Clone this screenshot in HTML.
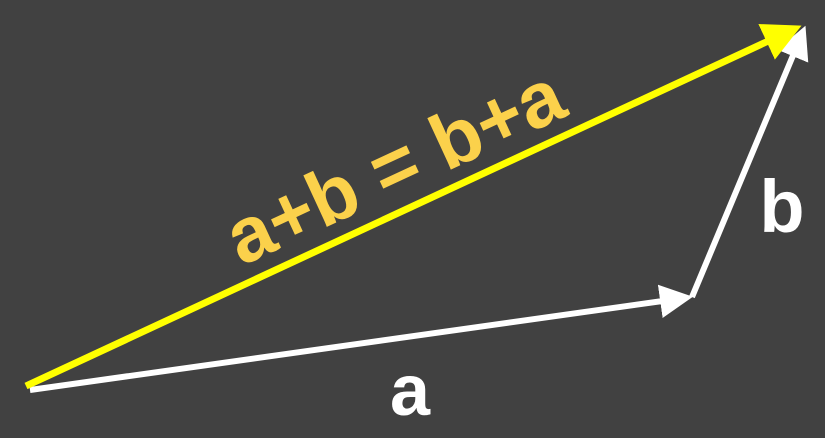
<!DOCTYPE html>
<html><head><meta charset="utf-8"><style>
html,body{margin:0;padding:0;background:#414141;width:825px;height:438px;overflow:hidden}
svg{display:block}
text{font-family:"Liberation Sans",Arial,sans-serif;font-weight:bold}
</style></head><body>
<svg width="825" height="438" viewBox="0 0 825 438">
<rect width="825" height="438" fill="#414141"/>
<defs>
<marker id="hy" markerWidth="6" markerHeight="6" refX="4" refY="3" orient="auto" markerUnits="strokeWidth"><path d="M0,0.2 L5.5,3 L0,5.8 Z" fill="#ffff00"/></marker>
<marker id="hw" markerWidth="6" markerHeight="6" refX="4" refY="3" orient="auto" markerUnits="strokeWidth"><path d="M0,0.2 L5.5,3 L0,5.8 Z" fill="#ffffff"/></marker>
</defs>
<line x1="30" y1="390" x2="684" y2="298" stroke="#ffffff" stroke-width="6" marker-end="url(#hw)"/>
<line x1="692" y1="297" x2="802" y2="34" stroke="#ffffff" stroke-width="6" marker-end="url(#hw)"/>
<line x1="26" y1="386" x2="792" y2="30" stroke="#ffff00" stroke-width="7" marker-end="url(#hy)"/>
<text x="394" y="193" font-size="78" fill="#fbd14b" text-anchor="middle" transform="rotate(-24.8 394 165)">a+b = b+a</text>
<text x="410" y="415" font-size="72" fill="#ffffff" text-anchor="middle">a</text>
<text x="782" y="232" font-size="74" fill="#ffffff" text-anchor="middle">b</text>
</svg>
</body></html>
